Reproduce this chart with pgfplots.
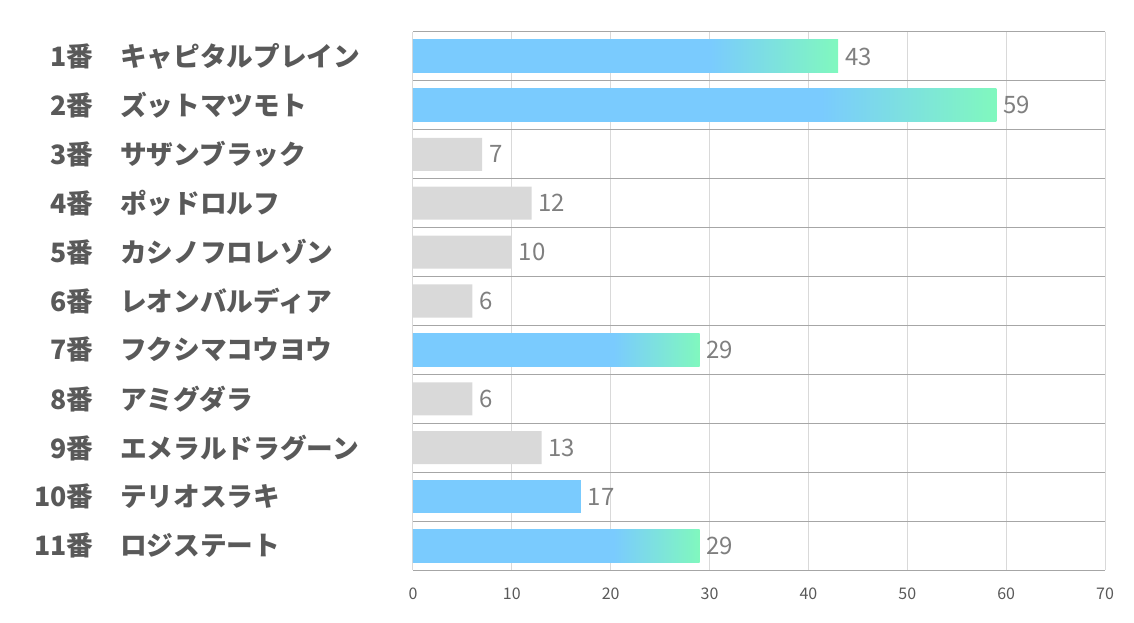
\documentclass[border=0pt]{standalone}
\usepackage{pgfplots}
\pgfplotsset{compat=1.18}
\usepackage{fontspec}
\newfontfamily\jp{Noto Sans CJK JP}
\definecolor{barblue}{RGB}{122,203,254}
\definecolor{barmint}{RGB}{128,248,190}
\definecolor{bargray}{RGB}{217,217,217}
\definecolor{labgray}{RGB}{89,89,89}
\definecolor{valgray}{RGB}{127,127,127}
\definecolor{hgrid}{RGB}{166,166,166}
\definecolor{vgrid}{RGB}{217,217,217}
\pgfdeclarehorizontalshading{barshade}{100bp}{color(0bp)=(barblue); color(60bp)=(barblue); color(75bp)=(barmint); color(100bp)=(barmint)}
\newcommand\lab[2]{\makebox[47.25pt][r]{#1番}\hspace{20.25pt}#2}
\begin{document}
\begin{tikzpicture}
\path[use as bounding box] (-309.75pt,-39.75pt) rectangle (540.75pt,427.5pt);
\begin{axis}[
  at={(0,0)}, anchor=south west,
  scale only axis, width=519pt, height=403.5pt,
  xmin=0, xmax=70, ymin=0.5, ymax=11.5, y dir=reverse,
  xtick={0,10,...,70}, ytick={1,...,11},
  yticklabels={{\lab{1}{キャピタルプレイン}},{\lab{2}{ズットマツモト}},{\lab{3}{サザンブラック}},{\lab{4}{ポッドロルフ}},{\lab{5}{カシノフロレゾン}},{\lab{6}{レオンバルディア}},{\lab{7}{フクシマコウヨウ}},{\lab{8}{アミグダラ}},{\lab{9}{エメラルドラグーン}},{\lab{10}{テリオスラキ}},{\lab{11}{ロジステート}}},
  minor ytick={0.5,1.5,...,11.5},
  xmajorgrids, yminorgrids,
  major grid style={vgrid, line width=0.75pt},
  minor grid style={hgrid, line width=0.75pt},
  axis line style={draw=none},
  major tick length=0pt, minor tick length=0pt,
  yticklabel style={font=\jp\bfseries\fontsize{20}{20}\selectfont, color=labgray, anchor=west, inner sep=0pt, xshift=-287.25pt},
  xticklabel style={font=\jp\fontsize{12}{12}\selectfont, color=labgray, inner sep=0pt, anchor=north, yshift=-13.5pt},
  /pgf/number format/assume math mode=true,
  xbar, bar width=24.75pt, bar shift=0pt,
  point meta=x,
  nodes near coords,
  nodes near coords style={font=\jp\fontsize{18}{18}\selectfont, color=valgray, anchor=west, inner sep=0pt, xshift=5pt},
]
\addplot[shade, shading=barshade, draw=none] coordinates {(43,1)};
\addplot[shade, shading=barshade, draw=none] coordinates {(59,2)};
\addplot[shade, shading=barshade, draw=none] coordinates {(29,7)};
\addplot[shade, shading=barshade, draw=none] coordinates {(29,11)};
\addplot[fill=barblue, draw=none] coordinates {(17,10)};
\addplot[fill=bargray, draw=none] coordinates {(7,3) (12,4) (10,5) (6,6) (6,8) (13,9)};
\end{axis}
\end{tikzpicture}
\end{document}
